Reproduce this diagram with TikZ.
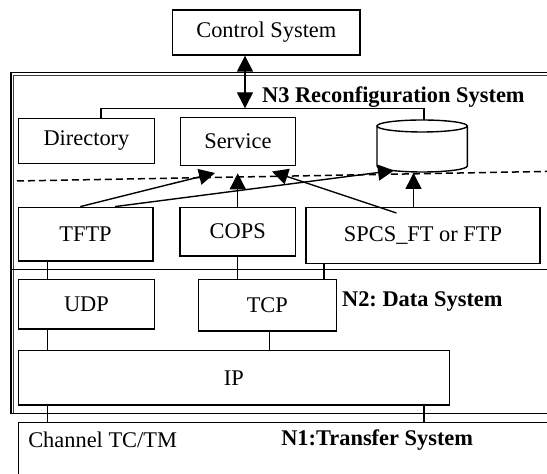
\documentclass[tikz,border=0pt]{standalone}
\usepackage{fontspec}
\setmainfont{Liberation Serif}
\usetikzlibrary{arrows.meta,calc}
\begin{document}
\begin{tikzpicture}[x=0.5pt,y=-0.5pt,
  every node/.style={font=\fontsize{11.2}{13}\selectfont},
  box/.style={draw, line width=0.7pt, inner sep=0pt, align=center},
  ln/.style={line width=0.7pt},
  tip/.tip={Triangle[length=8pt,width=8pt]},
  arr/.style={line width=0.7pt, -tip},
  lbl/.style={inner sep=0pt, anchor=west, font=\fontsize{11.2}{13}\selectfont\bfseries},
  txt/.style={inner sep=0pt, anchor=west}]
\useasboundingbox (0,0) rectangle (547,474);
\clip (0,0) rectangle (547,474);

% outer frame (N3 + N2)
\draw[line width=0.75pt] (560,72.7) -- (11,72.7) -- (11,413.3) -- (560,413.3);
\draw[line width=0.5pt, black!75] (560,76) -- (13.6,76) -- (13.6,413.3);
\draw[ln] (11,269.5) -- (560,269.5);
% N1 frame
\draw[ln] (560,422.7) -- (18.3,422.7) -- (18.3,490);

% boxes
\node[box, minimum width=93.65pt, minimum height=22.5pt] (ctrl) at (266.35,32.5) {Control System};
\node[box, minimum width=68.15pt, minimum height=22.7pt] (dir) at (86.45,141) {Directory};
\node[box, minimum width=57.6pt, minimum height=23.85pt] (svc) at (237.9,141.65) {Service};
\node[minimum width=45.15pt, minimum height=26pt, inner sep=0pt] (db) at (422.15,146) {};
\draw[ln] (377,126) -- (377,166) arc[start angle=180,end angle=360,x radius=22.575pt,y radius=3pt] -- (467.3,126);
\draw[ln] (422.15,126) ellipse[x radius=22.575pt, y radius=3pt];

\node[box, minimum width=67.25pt, minimum height=26.85pt] (tftp) at (85.55,234.15) {TFTP};
\node[box, minimum width=57.75pt, minimum height=24.35pt] (cops) at (237.75,231.65) {COPS};
\node[box, minimum width=117pt, minimum height=28pt] (spcs) at (423,235.3) {SPCS\_FT or FTP};
\node[box, minimum width=68.15pt, minimum height=24.85pt] (udp) at (86.45,304.15) {UDP};
\node[box, minimum width=69.15pt, minimum height=25.85pt] (tcp) at (267.35,305.15) {TCP};
\node[box, minimum width=215.55pt, minimum height=27.15pt] (ip) at (233.85,377.85) {IP};

% labels
\node[lbl] (n3) at (261.7,96.7) {N3 Reconfiguration System};
\node[lbl] (n2) at (341.7,301.7) {N2:~Data System};
\node[lbl] (n1) at (280.9,440) {N1:Transfer System};
\node[txt] (chan) at (27.9,440) {Channel TC/TM};

% control link
\coordinate (h1) at (101,108.3);
\coordinate (h2) at (424,108.3);
\coordinate (ax) at (245,108.3);
\draw[ln] (dir.north -| h1) -- (h1) -- (h2) -- (db.north -| h2);
\draw[line width=0.7pt, tip-tip] (ctrl.south -| ax) -- (ax);

% dashed boundary
\coordinate (d1) at (17,181);
\coordinate (d2) at (560,171.2);
\draw[line width=0.75pt, dash pattern=on 3.5pt off 2pt] (d1) -- (d2);

% arrows up
\coordinate (a1) at (80.3,0);
\coordinate (a2) at (115,0);
\coordinate (t1) at (215,173);
\coordinate (t2) at (394,170.5);
\coordinate (t3) at (237.75,173.3);
\coordinate (s4) at (396.5,213);
\coordinate (t4) at (272,171.5);
\coordinate (t5) at (413.5,173);
\draw[arr] (tftp.north -| a1) -- (t1);
\draw[arr] (tftp.north -| a2) -- (t2);
\draw[arr] (cops.north) -- (t3);
\draw[arr] (s4) -- (t4);
\draw[arr] (spcs.north -| t5) -- (t5);

% vertical links
\coordinate (c1) at (47.5,0);
\coordinate (c2) at (324,0);
\coordinate (c3) at (269.7,0);
\coordinate (c4) at (424,0);
\coordinate (n1top) at (0,422.7);
\draw[ln] (tftp.south -| c1) -- (udp.north -| c1);
\draw[ln] (cops.south) -- (tcp.north -| cops.south);
\draw[ln] (spcs.south -| c2) -- (tcp.north -| c2);
\draw[ln] (udp.south -| c1) -- (ip.north -| c1);
\draw[ln] (tcp.south -| c3) -- (ip.north -| c3);
\draw[ln] (ip.south -| c1) -- (n1top -| c1);
\draw[ln] (ip.south -| c4) -- (n1top -| c4);
\end{tikzpicture}
\end{document}
